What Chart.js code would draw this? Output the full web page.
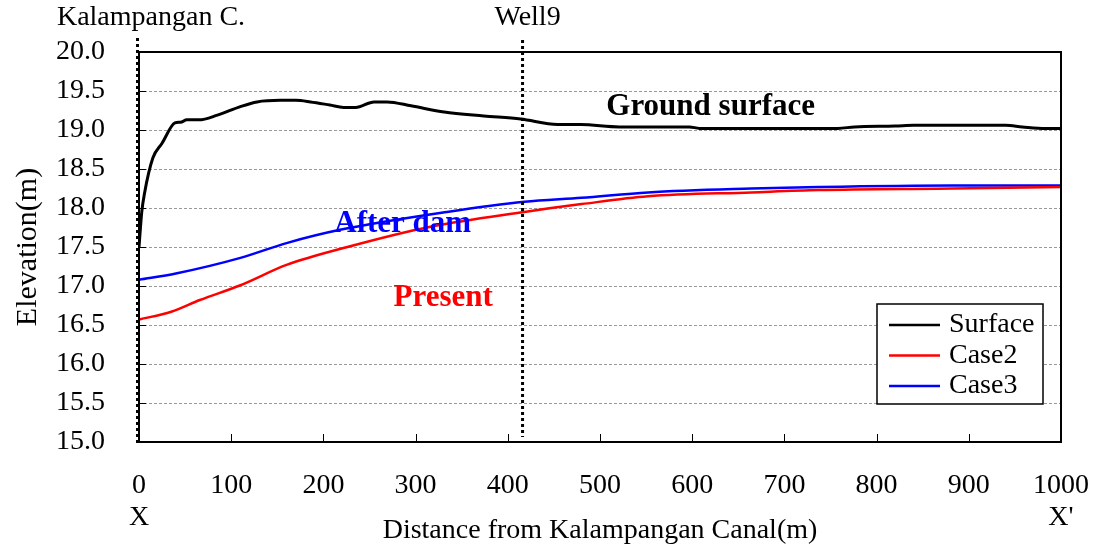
<!DOCTYPE html>
<html>
<head>
<meta charset="utf-8">
<script src="https://cdn.jsdelivr.net/npm/chart.js@4.4.1/dist/chart.umd.min.js"></script>
<style>
  html, body { margin: 0; padding: 0; background: #fff; }
  #wrap { width: 1111px; height: 547px; }
</style>
</head>
<body>
<div id="wrap"><canvas id="chart"></canvas></div>
<script>
// ground surface profile (distance m, elevation m)
const surfaceX = [0, 3, 6, 15, 25, 39, 45, 52, 65, 85, 110, 128, 153, 170, 186, 207, 222, 235, 255, 269, 295, 331, 374, 414, 454, 479, 521, 597, 608, 758, 776, 820, 840, 940, 958, 983, 1000];
const surfaceY = [17.5, 17.95, 18.19, 18.64, 18.83, 19.09, 19.10, 19.13, 19.13, 19.19, 19.30, 19.36, 19.38, 19.38, 19.36, 19.32, 19.29, 19.29, 19.36, 19.36, 19.31, 19.23, 19.18, 19.14, 19.07, 19.07, 19.04, 19.04, 19.02, 19.02, 19.04, 19.05, 19.06, 19.06, 19.04, 19.02, 19.02];

// Case2 (present)
const case2X = [0, 35, 66, 110, 160, 226, 316, 418, 480, 552, 664, 737, 882, 1000];
const case2Y = [16.57, 16.67, 16.82, 17.01, 17.27, 17.50, 17.76, 17.95, 18.05, 18.15, 18.20, 18.23, 18.25, 18.27];

// Case3 (after dam)
const case3X = [0, 40, 110, 160, 218, 334, 418, 480, 552, 664, 737, 882, 1000];
const case3Y = [17.08, 17.16, 17.36, 17.55, 17.72, 17.95, 18.08, 18.13, 18.20, 18.25, 18.27, 18.29, 18.29];

const seriesNames = ['Surface', 'Case2', 'Case3'];

// vertical reference lines
const markerX = [0, 416];
const markerNames = ['Kalampangan C.', 'Well9'];

// in-plot notes
const noteText = ['Ground surface', 'After dam', 'Present'];
const noteX = [620, 286, 330];
const noteY = [19.3, 17.8, 16.85];

const xTicks = [0, 100, 200, 300, 400, 500, 600, 700, 800, 900, 1000];
const xEnds = ['X', "X'"];

const FONT = 'Liberation Serif, Times New Roman, serif';
const lineColors = ['#000000', '#ff0000', '#0000ff'];
const noteColors = ['#000000', '#0000ff', '#ff0000'];

function toPoints(xs, ys) {
    return xs.map((x, i) => ({ x: x, y: ys[i] }));
}

const overlay = {
    id: 'overlay',
    afterDatasetsDraw(chart) {
        const { ctx, chartArea: a, scales: { x, y } } = chart;
        ctx.save();

        // inward tick marks
        ctx.strokeStyle = '#000';
        ctx.lineWidth = 1;
        ctx.beginPath();
        xTicks.forEach(v => {
            const px = Math.round(x.getPixelForValue(v)) + 0.5;
            ctx.moveTo(px, a.bottom);
            ctx.lineTo(px, a.bottom - 8);
        });
        for (let v = 15; v <= 20; v += 0.5) {
            const py = Math.round(y.getPixelForValue(v)) + 0.5;
            ctx.moveTo(a.left, py);
            ctx.lineTo(a.left + 7, py);
        }
        ctx.stroke();

        // frame
        ctx.lineWidth = 2;
        ctx.strokeRect(a.left, a.top, a.right - a.left, a.bottom - a.top);

        // dotted vertical markers
        ctx.lineWidth = 3;
        ctx.setLineDash([3, 3]);
        markerX.forEach((v, i) => {
            const px = x.getPixelForValue(v) - (i === 0 ? 1.5 : 0);
            ctx.beginPath();
            ctx.moveTo(px, i === 0 ? a.top - 14 : a.top - 12);
            ctx.lineTo(px, i === 0 ? a.bottom + 1 : a.bottom - 5);
            ctx.stroke();
        });
        ctx.setLineDash([]);

        // labels above markers
        ctx.fillStyle = '#000';
        ctx.font = '28px ' + FONT;
        ctx.textAlign = 'center';
        ctx.textBaseline = 'middle';
        ctx.fillText(markerNames[0], x.getPixelForValue(markerX[0]) + 12, 18);
        ctx.fillText(markerNames[1], x.getPixelForValue(markerX[1]) + 5, 18);

        // X / X' under the axis
        ctx.fillText(xEnds[0], x.getPixelForValue(0), 518);
        ctx.fillText(xEnds[1], x.getPixelForValue(1000), 518);

        // notes
        ctx.font = 'bold 31px ' + FONT;
        noteText.forEach((t, i) => {
            ctx.fillStyle = noteColors[i];
            ctx.fillText(t, x.getPixelForValue(noteX[i]), y.getPixelForValue(noteY[i]));
        });

        // legend box
        const bx = a.right - 184, by = a.bottom - 138, bw = 166, bh = 100;
        ctx.fillStyle = '#fff';
        ctx.fillRect(bx, by, bw, bh);
        ctx.strokeStyle = '#000';
        ctx.lineWidth = 1.5;
        ctx.strokeRect(bx, by, bw, bh);
        ctx.font = '28px ' + FONT;
        ctx.textAlign = 'left';
        chart.data.datasets.forEach((ds, i) => {
            const ry = by + 21 + i * 30.5;
            ctx.strokeStyle = ds.borderColor;
            ctx.lineWidth = 2.5;
            ctx.beginPath();
            ctx.moveTo(bx + 12, ry);
            ctx.lineTo(bx + 63, ry);
            ctx.stroke();
            ctx.fillStyle = '#000';
            ctx.fillText(ds.label, bx + 72, ry);
        });

        ctx.restore();
    }
};

const ctx = document.getElementById('chart');
new Chart(ctx, {
    type: 'line',
    data: {
        datasets: [
            { label: seriesNames[0], data: toPoints(surfaceX, surfaceY), borderColor: lineColors[0], borderWidth: 3 },
            { label: seriesNames[1], data: toPoints(case2X, case2Y), borderColor: lineColors[1], borderWidth: 2.5 },
            { label: seriesNames[2], data: toPoints(case3X, case3Y), borderColor: lineColors[2], borderWidth: 2.5 }
        ].map(ds => Object.assign(ds, { pointRadius: 0, cubicInterpolationMode: 'monotone', fill: false }))
    },
    options: {
        responsive: true,
        maintainAspectRatio: false,
        animation: false,
        layout: { padding: { top: 52, right: 50, left: 0, bottom: 0 } },
        scales: {
            x: {
                type: 'linear',
                min: 0,
                max: 1000,
                afterFit: s => { s.height = 105; s.paddingLeft = 0; s.paddingRight = 0; },
                afterBuildTicks: s => { s.ticks = xTicks.map(v => ({ value: v })); },
                grid: { display: false, drawTicks: false },
                border: { display: false },
                ticks: { color: '#000', font: { family: FONT, size: 28 }, padding: 27, maxRotation: 0, callback: v => String(v) },
                title: { display: true, text: 'Distance from Kalampangan Canal(m)', color: '#000', font: { family: FONT, size: 28 }, padding: { top: 0, bottom: 0 } }
            },
            y: {
                min: 15,
                max: 20,
                afterFit: s => { s.width = 139; s.paddingTop = 0; s.paddingBottom = 0; },
                grid: { color: '#9a9a9a', lineWidth: 1, drawTicks: false },
                border: { display: false, dash: [3, 2] },
                ticks: { stepSize: 0.5, color: '#000', font: { family: FONT, size: 28 }, padding: 34, callback: v => v.toFixed(1) },
                title: { display: true, text: 'Elevation(m)', color: '#000', font: { family: FONT, size: 30 }, padding: { top: 10, bottom: 0 } }
            }
        },
        plugins: {
            legend: { display: false },
            tooltip: { enabled: false }
        }
    },
    plugins: [overlay]
});
</script>
</body>
</html>
